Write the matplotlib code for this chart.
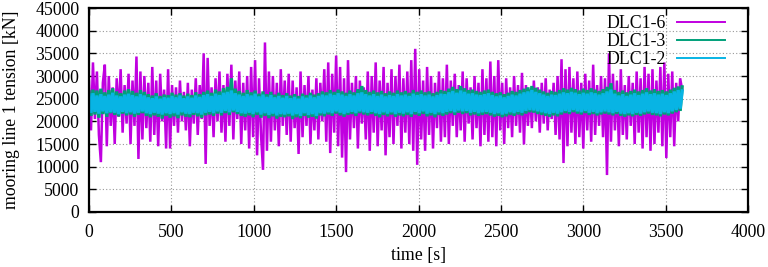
import numpy as np
import matplotlib
matplotlib.use("Agg")
import matplotlib.pyplot as plt

# ---- data (kN), sampled every ~12 s from 0 to 3600 s ----
dlc16 = [
    29000, 18000, 33000, 20500, 31000, 17000, 11000, 28500, 32500, 14500, 30000, 19000, 27500, 15000, 29500, 21000, 31500, 17500, 28000, 19500,
    30500, 15000, 29000, 19000, 34300, 11700, 31000, 16000, 30000, 18500, 28500, 15500, 32000, 17000, 29000, 14500, 30500, 20000, 27000, 14000,
    31500, 14000, 28000, 19000, 27500, 17500, 29000, 20000, 26500, 18000, 28500, 14500, 27000, 19500, 29500, 17000, 28000, 20500, 35000, 10600,
    34000, 19000, 27500, 16500, 29500, 20000, 31000, 17500, 28000, 15500, 30500, 19000, 32500, 16000, 29000, 20500, 31000, 15000, 28500, 18000,
    30000, 14000, 32000, 16500, 33500, 12500, 29500, 17000, 9300, 37400, 13500, 31000, 15500, 30000, 18000, 28500, 14500, 31500, 19000, 29000,
    17000, 30500, 15500, 29000, 18500, 27500, 12800, 31000, 16500, 28000, 19000, 30000, 15000, 27000, 18000, 29500, 16000, 28500, 20000, 31500,
    15500, 33000, 13000, 30500, 17500, 34500, 14500, 32000, 12000, 29500, 8800, 33500, 16000, 28500, 18500, 30000, 14000, 29000, 19500, 27500,
    16000, 31000, 13500, 30000, 17500, 33000, 14500, 29000, 18000, 32000, 12500, 28500, 16500, 31500, 15000, 30000, 19000, 32500, 14000, 29500,
    17500, 31000, 15000, 33500, 13500, 36000, 10400, 31500, 16000, 29000, 13500, 32000, 17000, 30000, 14000, 28500, 18500, 31000, 15500, 29500,
    16500, 32500, 15000, 29000, 19000, 30500, 16500, 28000, 18000, 31000, 15500, 29500, 19500, 27500, 16000, 30000, 18500, 28500, 14500, 31500,
    17000, 29500, 15500, 33200, 16500, 30000, 14500, 33500, 18000, 28500, 15000, 29500, 18500, 27500, 16500, 30000, 19000, 28000, 17500, 30700,
    14900, 28000, 19000, 27000, 18500, 29000, 20000, 27500, 17500, 28500, 19500, 29500, 18000, 27000, 20500, 28500, 17000, 30000, 16000, 33700,
    10800, 31500, 14500, 32000, 17500, 29500, 15000, 31000, 16500, 28500, 14000, 30500, 18000, 29000, 15500, 32500, 17000, 28000, 19000, 30000,
    16500, 29500, 8150, 35000, 15500, 30500, 18000, 29000, 14500, 31500, 17000, 28000, 16000, 30000, 19000, 28500, 15000, 31000, 17500, 29500,
    14000, 32000, 16500, 30500, 13500, 31500, 15000, 29000, 17500, 32000, 14500, 33000, 11900, 30500, 16500, 31000, 14500, 28500, 20000, 29500, 27000,
]

dlc13 = [
    26500, 21200, 27000, 21500, 26800, 20800, 27200, 21600, 26400, 21000, 26900, 21800, 27300, 21400, 26600, 21100, 26200, 21700, 26800, 21300,
    27100, 21500, 26700, 21000, 26300, 21400, 26900, 21800, 26500, 21200, 26000, 20900, 25700, 21300, 26200, 21000, 25600, 20600, 25900, 21200,
    25800, 20800, 26300, 21100, 25900, 20700, 26200, 21300, 25700, 21000, 26100, 20900, 25800, 21400, 26400, 21100, 26000, 20800, 26500, 21300,
    26800, 21500, 26300, 21200, 27000, 21700, 26600, 21300, 27300, 21800, 27600, 21400, 29500, 22000, 27200, 21600, 26700, 21200, 26300, 21000,
    26900, 21300, 26400, 20900, 26800, 21400, 26100, 20800, 26600, 21200, 26000, 20700, 26500, 21100, 25900, 20600, 26300, 21000, 25800, 20900,
    26200, 21100, 25700, 20500, 26000, 20900, 25600, 20700, 26100, 21200, 25800, 20800, 26300, 21000, 25900, 20600, 26200, 21300, 26600, 21100,
    26400, 21500, 26900, 21200, 26500, 21700, 27000, 21300, 26600, 21000, 26300, 21400, 26800, 21600, 26400, 21200, 27100, 21800, 27800, 21500,
    26900, 21300, 26500, 21600, 26800, 21200, 26400, 20900, 26700, 21400, 26200, 21100, 26600, 21500, 26300, 21000, 26800, 21300, 26400, 21100,
    26700, 21400, 26300, 21000, 26900, 21500, 26500, 21200, 26800, 21600, 26400, 21100, 26600, 21300, 26200, 20900, 26500, 21400, 26900, 21200,
    26700, 21500, 27200, 21800, 27600, 21400, 27100, 21900, 27800, 21600, 27300, 21800, 26900, 21300, 27000, 21500, 26700, 21200, 26500, 21400,
    26800, 21600, 27000, 21300, 26500, 21000, 26200, 21200, 26400, 20900, 26000, 21100, 26300, 21400, 26700, 21200, 26500, 21500, 26900, 21300,
    27200, 21700, 27500, 22000, 27800, 21900, 27400, 21600, 27000, 21400, 26600, 21200, 26300, 21000, 26700, 21300, 26500, 21100, 26900, 21500,
    27300, 21800, 27000, 21600, 27400, 22000, 27100, 21700, 26800, 21500, 27200, 21800, 26900, 21400, 27300, 21600, 27000, 21300, 26700, 21500,
    27100, 21700, 27600, 21500, 28400, 21300, 26900, 21600, 26500, 21200, 26800, 21000, 26400, 21300, 26700, 21100, 27000, 21400, 26600, 21200,
    26900, 21500, 27300, 21700, 26800, 21400, 27100, 21300, 26700, 21100, 26900, 21500, 26600, 21300, 27000, 21700, 27400, 22000, 27700, 22300, 27600,
]

dlc12 = [
    25800, 21900, 26200, 22100, 25700, 21700, 26000, 22200, 25600, 21800, 25900, 22000, 26300, 21900, 25700, 21600, 25500, 22100, 25900, 21800,
    26100, 22000, 25800, 21700, 25500, 21900, 26000, 22200, 25700, 21800, 25300, 21600, 25100, 21900, 25500, 21700, 25000, 21500, 25300, 21800,
    25200, 21600, 25600, 21800, 25300, 21500, 25700, 22000, 25100, 21700, 25500, 21600, 25200, 21900, 25700, 21800, 25400, 21500, 25800, 21900,
    26000, 22100, 25600, 21800, 26100, 22200, 25800, 21900, 26300, 22300, 26500, 22000, 26800, 22400, 26200, 22100, 25900, 21800, 25600, 21700,
    26000, 21900, 25700, 21600, 26100, 22000, 25500, 21500, 25900, 21800, 25400, 21400, 25800, 21700, 25300, 21300, 25600, 21600, 25200, 21500,
    25600, 21700, 25100, 21300, 25400, 21600, 25000, 21200, 25500, 21800, 25200, 21400, 25700, 21600, 25300, 21200, 25600, 21800, 25900, 21700,
    25700, 22000, 26100, 21800, 25800, 22200, 26200, 21900, 25900, 21600, 25600, 21900, 26000, 22100, 25700, 21800, 26200, 22200, 26400, 22000,
    26000, 21900, 25700, 22100, 26000, 21800, 25600, 21600, 25900, 22000, 25500, 21700, 25800, 22000, 25600, 21600, 26000, 21900, 25700, 21700,
    25900, 22000, 25600, 21600, 26100, 22100, 25800, 21800, 26000, 22200, 25700, 21700, 25900, 21900, 25500, 21600, 25800, 22000, 26100, 21800,
    26000, 22100, 26400, 22300, 26700, 22000, 26300, 22400, 26800, 22200, 26500, 22300, 26100, 21900, 26200, 22100, 25900, 21800, 25800, 22000,
    26000, 22100, 26200, 21900, 25800, 21600, 25500, 21800, 25700, 21500, 25300, 21700, 25600, 22000, 25900, 21800, 25700, 22100, 26100, 21900,
    26400, 22300, 26600, 22500, 26900, 22400, 26500, 22200, 26200, 22000, 25900, 21800, 25600, 21600, 25900, 21900, 25800, 21700, 26100, 22000,
    26400, 22300, 26200, 22100, 26500, 22500, 26300, 22200, 26000, 22000, 26300, 22300, 26100, 21900, 26400, 22100, 26200, 21800, 25900, 22000,
    26200, 22200, 26600, 22000, 27000, 21800, 26100, 22100, 25700, 21700, 26000, 21600, 25600, 21800, 25900, 21600, 26200, 21900, 25800, 21700,
    26100, 22000, 26400, 22200, 26000, 21900, 26200, 21800, 25900, 21600, 26100, 22000, 25800, 21800, 26200, 22200, 26600, 22500, 26900, 22800, 26700,
]

labels = ["DLC1-6", "DLC1-3", "DLC1-2"]
t_end = 3600
xticks = [0, 500, 1000, 1500, 2000, 2500, 3000, 3500, 4000]
yticks = [0, 5000, 10000, 15000, 20000, 25000, 30000, 35000, 40000, 45000]

plt.rcParams['font.family'] = ['Liberation Serif', 'DejaVu Serif']
plt.rcParams['font.size'] = 12.8

fig = plt.figure(figsize=(7.68, 2.67), dpi=100)
ax = fig.add_axes([0.1159, 0.206, 0.8581, 0.764])

series = [dlc16, dlc13, dlc12]
colors = ["#c000e0", "#00a07a", "#08b4e4"]
lws = [1.8, 2.4, 2.4]
for vals, lab, c, lw in zip(series, labels, colors, lws):
    t = np.linspace(0, t_end, len(vals))
    ax.plot(t, vals, color=c, lw=lw, label=lab, solid_joinstyle="miter")

ax.set_xlim(0, 4000)
ax.set_ylim(0, 45000)
ax.set_xticks(xticks)
ax.set_yticks(yticks)
ax.grid(True, color="#999999", linestyle=(0, (1, 2)), linewidth=0.8)
ax.set_axisbelow(True)
ax.tick_params(direction="in", top=True, right=True, length=5, width=1.0, labelsize=12.8)
ax.tick_params(axis="x", pad=9)
ax.tick_params(axis="y", pad=7)
for s in ax.spines.values():
    s.set_linewidth(1.6)
ax.set_xlabel("time [s]", fontsize=12.8, labelpad=4)
ax.set_ylabel("mooring line 1 tension [kN]", fontsize=12.8, labelpad=11)

leg = ax.legend(loc="upper right", frameon=False, markerfirst=False, fontsize=12.8,
                handlelength=2.7, labelspacing=0.05, borderaxespad=0.0, handletextpad=0.65,
                bbox_to_anchor=(0.976, 1.0))
for h in leg.get_lines():
    h.set_linewidth(1.4)
fig.savefig("out.png", dpi=100)
